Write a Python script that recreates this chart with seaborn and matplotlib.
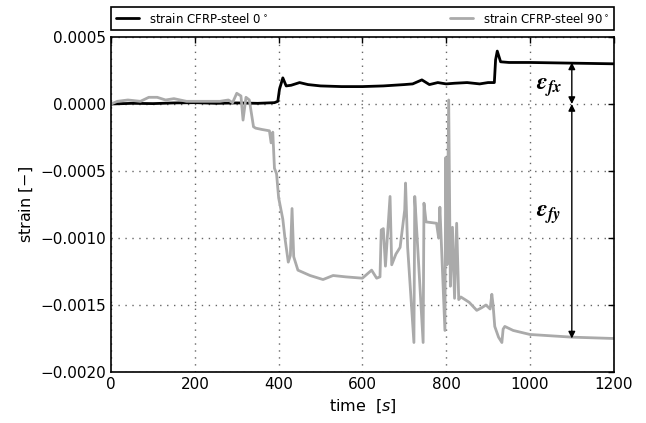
import seaborn as sns
import matplotlib.pyplot as plt
import numpy as np
import pandas as pd

# strain CFRP-steel 0 deg (values in 1e-4)
t_0 = [0, 50, 100, 150, 200, 250, 300, 350, 390, 398, 402, 410, 418, 430, 450, 470, 500,
       550, 600, 650, 700, 720, 742, 760, 780, 800, 820, 850, 880, 900, 915, 918, 922, 930,
       950, 1000, 1100, 1200]
eps_0 = [0.0, 0.05, 0.03, 0.08, 0.1, 0.05, 0.08, 0.05, 0.1, 0.2, 1.1, 1.95, 1.35, 1.4, 1.6,
         1.45, 1.35, 1.3, 1.3, 1.35, 1.45, 1.5, 1.8, 1.45, 1.6, 1.5, 1.55, 1.6, 1.5, 1.6, 1.6,
         3.3, 3.95, 3.15, 3.1, 3.1, 3.05, 3.0]

# strain CFRP-steel 90 deg (values in 1e-4)
t_90 = [0, 15, 40, 70, 90, 110, 130, 150, 180, 220, 260, 280, 290, 300, 310, 315, 322, 330,
        340, 345, 360, 378, 382, 386, 390, 395, 400, 405, 410, 415, 423, 428, 432, 436, 446,
        475, 506, 530, 560, 600, 622, 634, 642, 645, 650, 655, 666, 670, 680, 690, 701, 703,
        708, 723, 725, 730, 745, 747, 752, 777, 782, 785, 797, 799, 802, 806, 810, 815, 820,
        825, 830, 835, 845, 855, 873, 885, 895, 905, 909, 912, 916, 925, 933, 936, 940, 960,
        1000, 1050, 1100, 1200]
eps_90 = [0.0, 0.2, 0.3, 0.2, 0.5, 0.5, 0.3, 0.4, 0.2, 0.2, 0.2, 0.3, 0.1, 0.8, 0.6, -1.2,
          0.5, 0.3, -1.7, -1.8, -1.9, -2.0, -2.9, -2.1, -4.8, -5.2, -7.0, -7.8, -8.6, -10.0,
          -11.8, -11.3, -7.8, -11.4, -12.4, -12.8, -13.1, -12.8, -12.9, -13.0, -12.4, -13.0,
          -12.9, -9.4, -9.3, -12.1, -6.9, -12.0, -11.2, -10.7, -7.9, -5.9, -10.7, -17.8, -6.9,
          -9.6, -17.8, -7.4, -8.8, -8.9, -10.0, -7.7, -16.9, -4.0, -12.0, 0.3, -13.6, -9.2,
          -14.5, -8.9, -14.6, -14.4, -14.6, -14.8, -15.4, -15.2, -15.0, -15.3, -14.2, -15.0,
          -16.6, -17.4, -17.8, -16.8, -16.6, -16.9, -17.2, -17.3, -17.4, -17.5]

df_0 = pd.DataFrame({'t': t_0, 'eps': np.array(eps_0) * 1e-4})
df_90 = pd.DataFrame({'t': t_90, 'eps': np.array(eps_90) * 1e-4})

sns.set_style('white')
plt.rcParams['font.family'] = ['DejaVu Sans']
plt.rcParams['xtick.direction'] = 'in'
plt.rcParams['ytick.direction'] = 'in'
plt.rcParams['text.color'] = 'black'
plt.rcParams['axes.labelcolor'] = 'black'
plt.rcParams['xtick.color'] = 'black'
plt.rcParams['ytick.color'] = 'black'

fig = plt.figure(figsize=(6.46, 4.23), dpi=100)
ax = fig.add_axes([0.172, 0.1206, 0.778, 0.7919])

sns.lineplot(x='t', y='eps', data=df_0, color='black', lw=2, label=r'strain CFRP-steel 0$^\circ$', ax=ax)
sns.lineplot(x='t', y='eps', data=df_90, color='#aaaaaa', lw=2, label=r'strain CFRP-steel 90$^\circ$', ax=ax)

ax.set_xlim(0, 1200)
ax.set_ylim(-0.002, 0.0005)
ax.set_xticks(np.arange(0, 1201, 200))
ax.set_yticks(np.arange(-0.002, 0.00051, 0.0005))
ax.yaxis.set_major_formatter(plt.FuncFormatter(lambda v, p: ('%.4f' % v).replace('-', '\u2212') if abs(v) > 1e-9 else '0.0000'))
ax.tick_params(labelsize=11, top=True, right=True, length=4, width=1, color='black', labelcolor='black')
ax.grid(True, linestyle=(0, (1, 4)), color='#666666', lw=1)
for s in ax.spines.values():
    s.set_color('black')
    s.set_linewidth(1.2)

ax.set_xlabel(r'time  $[s]$', fontsize=11.5)
ax.set_ylabel(r'strain $[-]$', fontsize=11.5)

ax.legend(bbox_to_anchor=(0., 1.02, 1., .102), loc='lower left', ncol=2, mode='expand',
          borderaxespad=0., fancybox=False, edgecolor='black', fontsize=8.5, framealpha=1)
ax.get_legend().get_frame().set_linewidth(1.2)

arrow = dict(arrowstyle='<|-|>', color='black', lw=1, mutation_scale=10, shrinkA=0, shrinkB=0)
ax.annotate('', xy=(1100, 0.0), xytext=(1100, 0.00031), arrowprops=arrow)
ax.annotate('', xy=(1100, -0.00175), xytext=(1100, 0.0), arrowprops=arrow)
ax.text(1045, 0.00013, r'$\mathbfit{\varepsilon_{fx}}$', ha='center', va='center', fontsize=17, math_fontfamily='stix')
ax.text(1045, -0.00082, r'$\mathbfit{\varepsilon_{fy}}$', ha='center', va='center', fontsize=17, math_fontfamily='stix')

fig.savefig('out.png', dpi=100)
